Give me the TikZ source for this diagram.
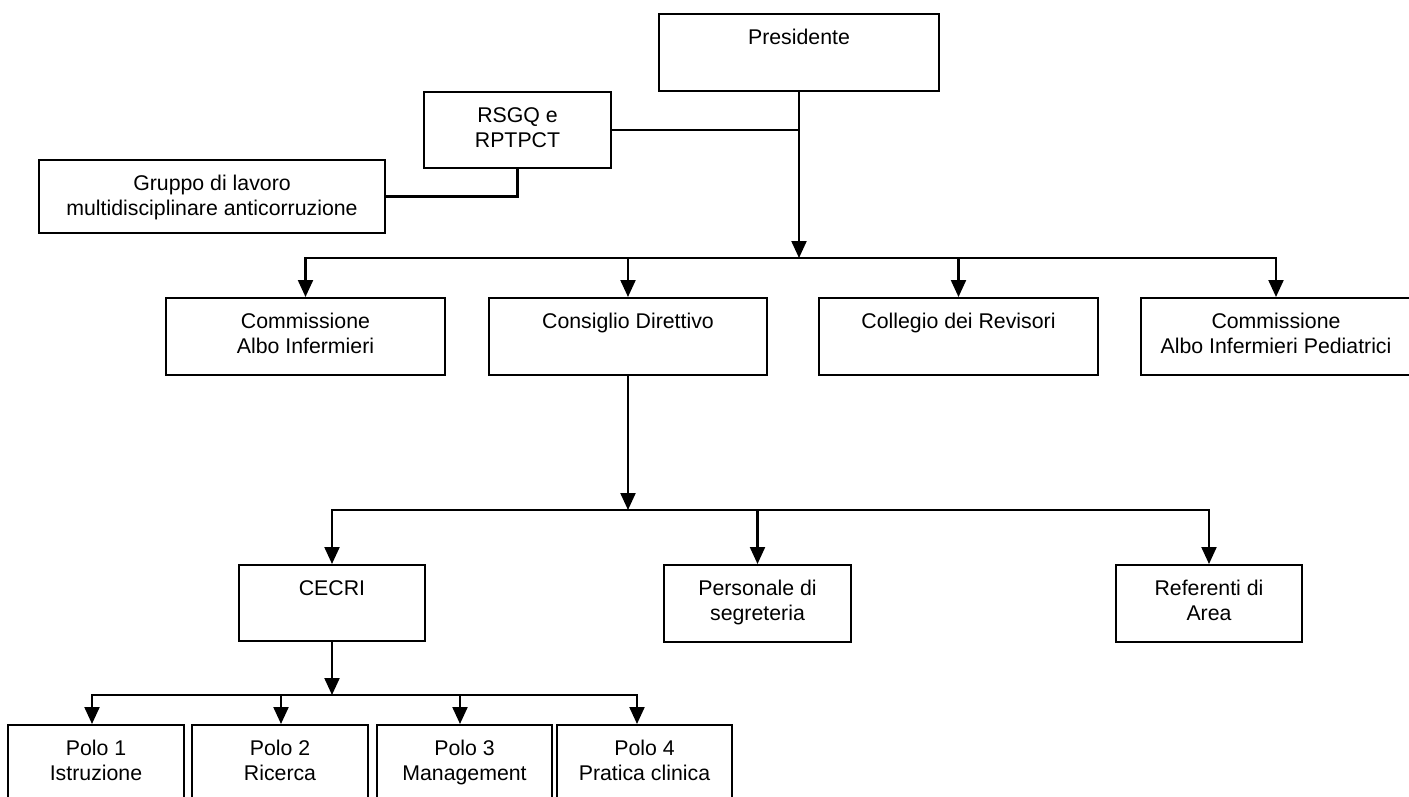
\documentclass[tikz,border=0pt]{standalone}
\usepackage{fontspec}
\setmainfont{Liberation Sans}
\usetikzlibrary{arrows.meta,calc}
\newcommand\boxtext[2]{\node[txt] (#1T) at ($(#1.north)+(0,14.5)$) {\rule{0pt}{17pt}#2};}
\begin{document}
\begin{tikzpicture}[x=1pt,y=-1pt,
  box/.style={draw, line width=2pt, inner sep=0pt, anchor=north west},
  txt/.style={anchor=north, inner sep=0pt, align=center, font=\fontsize{21.3pt}{25pt}\selectfont},
  conn/.style={line width=2.2pt, line cap=rect},
  arr/.style={line width=2.2pt, -{Triangle[length=17pt,width=15pt]}}]
\fill[white] (0,0) rectangle (1409,797);
\useasboundingbox (0,0) rectangle (1409,797);

% boxes
\node[box, minimum width=280pt, minimum height=77pt] (pres) at (658,13) {};
\node[box, minimum width=187pt, minimum height=76pt] (rsgq) at (423,91) {};
\node[box, minimum width=346pt, minimum height=73pt] (gruppo) at (38,159) {};
\node[box, minimum width=279pt, minimum height=77pt] (comm) at (165,297) {};
\node[box, minimum width=278pt, minimum height=77pt] (cons) at (488,297) {};
\node[box, minimum width=279pt, minimum height=77pt] (coll) at (818,297) {};
\node[box, minimum width=270pt, minimum height=77pt] (ped) at (1140,297) {};
\node[box, minimum width=186pt, minimum height=76pt] (cecri) at (238,564) {};
\node[box, minimum width=187pt, minimum height=77pt] (pers) at (663,564) {};
\node[box, minimum width=186pt, minimum height=77pt] (ref) at (1115,564) {};
\node[box, minimum width=176pt, minimum height=85pt] (p1) at (7,724) {};
\node[box, minimum width=176pt, minimum height=85pt] (p2) at (191,724) {};
\node[box, minimum width=175pt, minimum height=85pt] (p3) at (376,724) {};
\node[box, minimum width=175pt, minimum height=85pt] (p4) at (556,724) {};

% texts
\boxtext{pres}{Presidente}
\boxtext{rsgq}{RSGQ e\\RPTPCT}
\boxtext{gruppo}{Gruppo di lavoro\\multidisciplinare anticorruzione}
\boxtext{comm}{Commissione\\Albo Infermieri}
\boxtext{cons}{Consiglio Direttivo}
\boxtext{coll}{Collegio dei Revisori}
\boxtext{ped}{Commissione\\Albo Infermieri Pediatrici}
\boxtext{cecri}{CECRI}
\boxtext{pers}{Personale di\\segreteria}
\boxtext{ref}{Referenti di\\Area}
\boxtext{p1}{Polo 1\\Istruzione}
\boxtext{p2}{Polo 2\\Ricerca}
\boxtext{p3}{Polo 3\\Management}
\boxtext{p4}{Polo 4\\Pratica clinica}

% junction coordinates
\coordinate (j1) at (pres.south |- 0,258);
\coordinate (j2) at (cons.south |- 0,510);
\coordinate (j3) at (cecri.south |- 0,695);
\coordinate (t1) at (92,695);
\coordinate (t2) at (281,695);
\coordinate (t3) at (460,695);
\coordinate (t4) at (637,695);

% top level
\draw[line width=1.6pt] (rsgq.east) -- (rsgq.east -| pres.south);
\draw[conn] (rsgq.south) |- (gruppo.east);
\draw[arr] (pres.south) -- (j1);
\draw[conn] (comm.north |- j1) -- (ped.north |- j1);
\foreach \n in {comm,cons,coll,ped} \draw[arr] (\n.north |- j1) -- (\n.north);

% second level
\draw[arr] (cons.south) -- (j2);
\draw[conn] (cecri.north |- j2) -- (ref.north |- j2);
\foreach \n in {cecri,pers,ref} \draw[arr] (\n.north |- j2) -- (\n.north);

% third level
\draw[arr] (cecri.south) -- (j3);
\draw[conn] (t1) -- (t4);
\draw[arr] (t1) -- (t1 |- p1.north);
\draw[arr] (t2) -- (t2 |- p2.north);
\draw[arr] (t3) -- (t3 |- p3.north);
\draw[arr] (t4) -- (t4 |- p4.north);
\end{tikzpicture}
\end{document}
